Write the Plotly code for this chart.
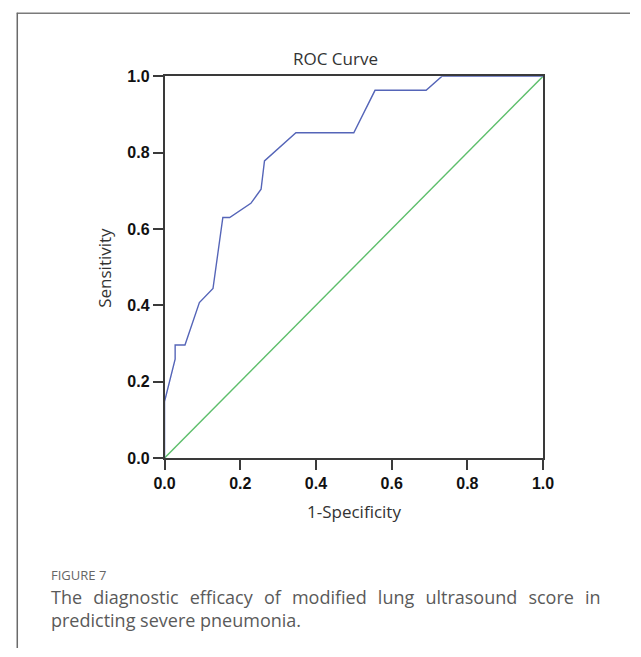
import plotly.graph_objects as go

# ROC curve points
fpr = [0.0, 0.0, 0.028, 0.028, 0.054, 0.092, 0.128, 0.154, 0.172, 0.228, 0.255, 0.264, 0.347, 0.500, 0.556, 0.691, 0.733, 1.0]
tpr = [0.0, 0.148, 0.259, 0.296, 0.296, 0.407, 0.444, 0.630, 0.630, 0.667, 0.704, 0.778, 0.852, 0.852, 0.963, 0.963, 1.0, 1.0]
ref_x = [0.0, 1.0]
ref_y = [0.0, 1.0]
tick_vals = [0.0, 0.2, 0.4, 0.6, 0.8, 1.0]
tick_text = ["0.0", "0.2", "0.4", "0.6", "0.8", "1.0"]

W, H = 641, 657
def px(x):
    return x / W
def py(y):
    return 1 - y / H

fig = go.Figure()
fig.add_trace(go.Scatter(x=ref_x, y=ref_y, mode="lines",
                         line=dict(color="#5DBE6B", width=1.4), showlegend=False))
fig.add_trace(go.Scatter(x=fpr, y=tpr, mode="lines",
                         line=dict(color="#5565B8", width=1.4), showlegend=False))

axis_common = dict(range=[0, 1], tickvals=tick_vals, ticktext=["<b>%s</b>" % t for t in tick_text],
                   showgrid=False, zeroline=False, showline=True, mirror=True,
                   linecolor="#3a3a3a", linewidth=1.5, ticks="outside", ticklen=10,
                   tickwidth=1.5, tickcolor="#3a3a3a",
                   tickfont=dict(family="Liberation Sans", size=16, color="#111"))

fig.update_layout(
    width=W, height=H,
    margin=dict(l=0, r=0, t=0, b=0),
    paper_bgcolor="white", plot_bgcolor="white",
    xaxis=dict(domain=[px(159), px(551)], **axis_common),
    yaxis=dict(domain=[py(462), py(70)], **axis_common),
    font=dict(family="Open Sans"),
)

SP = "  \u200a"
line1_words = ["The", "diagnostic", "efficacy", "of", "modified", "lung", "ultrasound", "score", "in"]
annotations = [
    dict(text="ROC Curve", x=px(336), y=py(52), font=dict(size=17, color="#333")),
    dict(text="1-Specificity", x=px(355), y=py(517), font=dict(size=17, color="#333")),
    dict(text="Sensitivity", x=px(96), y=py(267), textangle=-90, font=dict(size=17, color="#333")),
    dict(text="FIGURE 7", x=px(40), y=py(582), xanchor="left", font=dict(size=13, color="#666")),
    dict(text=SP.join(line1_words), x=px(40), y=py(605), xanchor="left",
         font=dict(size=18, color="#5a5a5a")),
    dict(text="predicting severe pneumonia.", x=px(40), y=py(628), xanchor="left",
         font=dict(size=18, color="#5a5a5a")),
]
for a in annotations:
    a.update(xref="paper", yref="paper", showarrow=False, borderpad=0)
    a.setdefault("xanchor", "center")
    a.setdefault("yanchor", "middle")
fig.update_layout(annotations=annotations)

fig.add_shape(type="line", xref="paper", yref="paper", x0=px(6), x1=1, y0=py(5.5), y1=py(5.5),
              line=dict(color="#7a7a7a", width=1.5))
fig.add_shape(type="line", xref="paper", yref="paper", x0=px(6.5), x1=px(6.5), y0=py(5), y1=0,
              line=dict(color="#6a6a6a", width=1.5))

fig.write_html("out.html", post_script="document.body.style.margin='0';")
